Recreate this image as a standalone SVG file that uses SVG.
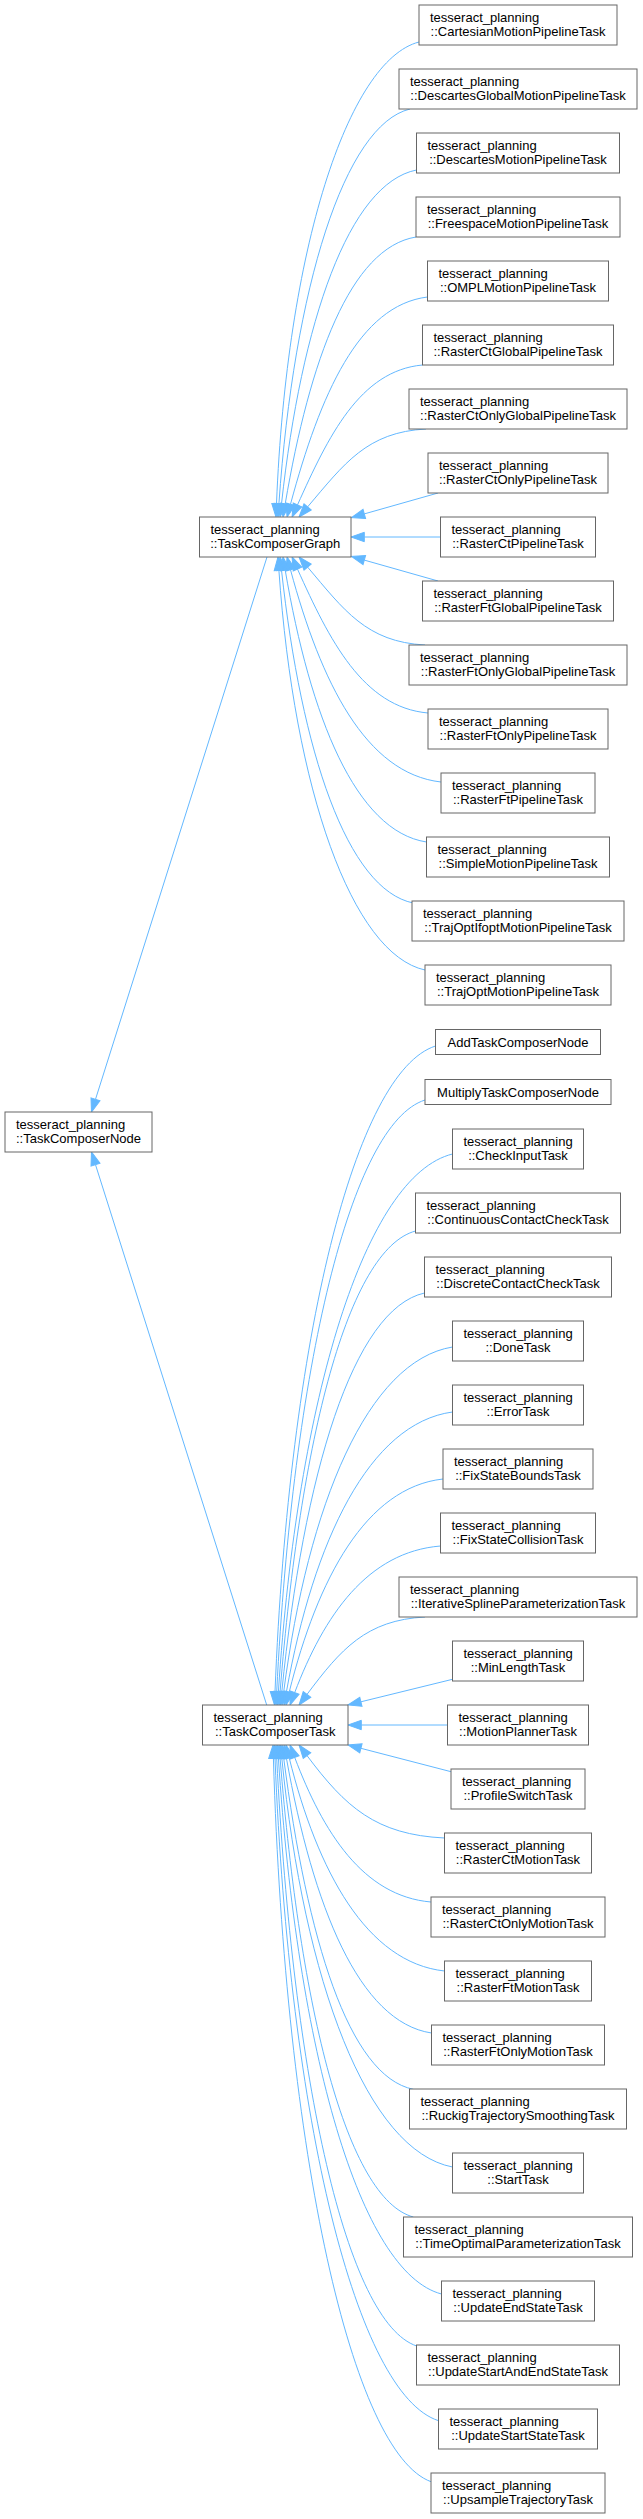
<svg xmlns="http://www.w3.org/2000/svg" width="643" height="2519" viewBox="0 0 643 2519">
<style>
.n rect{fill:#fff;stroke:#666;stroke-width:1}
text{font-family:"Liberation Sans",Arial,Helvetica,sans-serif;font-size:13px;fill:#000}
.c{text-anchor:middle}
.e path{fill:none;stroke:#63b8ff;stroke-width:1;marker-start:url(#a)}
</style>
<defs>
<marker id="a" markerUnits="userSpaceOnUse" viewBox="0 -5 14 10" refX="0" refY="0" markerWidth="14" markerHeight="10" orient="auto-start-reverse" overflow="visible">
<path d="M0,-4.7 L13.3,0 L0,4.7 Z" fill="#63b8ff" stroke="#63b8ff" stroke-width="1"/>
</marker>
</defs>
<rect width="643" height="2519" fill="#fff"/>
<g id="connectors" class="e">
<path d="M276.5,503.7 C286.7,250 347.8,60.5 419,42"/>
<path d="M278.9,503.7 C294.1,287.1 344.5,124.8 410,109"/>
<path d="M281.5,503.8 C301.5,321.3 349,183.4 416.5,170"/>
<path d="M285.2,503.9 C309.8,359.2 350.6,247.7 416,237"/>
<path d="M290.5,504.2 C320.2,394.1 359.1,305.3 427.5,297"/>
<path d="M297.5,504.9 C328.2,436.5 359.9,370.6 422.5,365"/>
<path d="M307.6,506.9 C344.3,463.7 366.8,432.1 426,429"/>
<path d="M364.3,513.9 L438,493"/>
<path d="M364.3,537 L440.5,537"/>
<path d="M364.3,560.1 L438,581"/>
<path d="M307.6,567.1 C344.1,610.1 366.3,641.9 425,645"/>
<path d="M297.5,569.1 C329.4,640.1 362.9,707.2 428,713"/>
<path d="M290.5,569.8 C321,682.5 365.7,773.5 441,782"/>
<path d="M285.2,570.1 C310.3,717.5 355.8,831.1 426.5,842"/>
<path d="M281.5,570.2 C301.4,752.1 347.3,889.7 413.3,903"/>
<path d="M278.9,570.3 C294.2,789.6 352,954 425,970"/>
<path d="M95.5,1099.3 L267,557"/>
<path d="M95.5,1164.7 L266.7,1705"/>
<path d="M275,1691.7 C289.2,1336.9 355.3,1071.8 435.5,1046"/>
<path d="M276.7,1691.7 C293,1366.7 350.8,1123.7 425,1100"/>
<path d="M278.4,1691.7 C297.6,1396.6 365.3,1175.5 452.5,1154"/>
<path d="M280.1,1691.7 C300.3,1439.1 347.9,1249.4 415.5,1231"/>
<path d="M281.8,1691.8 C303.6,1473.6 353.1,1309 424.5,1293"/>
<path d="M283.7,1691.8 C308.1,1503.8 368,1360.8 452.5,1347"/>
<path d="M286.4,1691.9 C313.6,1540.4 369.3,1423.2 452.5,1412"/>
<path d="M289.2,1692.1 C317.6,1578.4 366.1,1487.5 443,1479"/>
<path d="M294.7,1692.6 C324,1615.4 367.5,1551.9 440.5,1546"/>
<path d="M307,1694.4 C340.8,1649.3 366,1620.1 425,1617"/>
<path d="M360.9,1701.8 L452.5,1679.3"/>
<path d="M361.3,1725 L447.5,1725"/>
<path d="M360.9,1748.3 L451,1771.7"/>
<path d="M307,1755.6 C345.4,1806.8 375.6,1834.7 444.5,1838"/>
<path d="M294.7,1757.4 C322.9,1831.7 362.8,1896.2 431,1902"/>
<path d="M289.2,1757.9 C317.6,1871.6 366.7,1962.5 444.5,1971"/>
<path d="M286.4,1758.1 C313.2,1906.9 359,2022 431.5,2033"/>
<path d="M283.7,1758.2 C307.2,1938.8 348.5,2076.1 413.3,2089.3"/>
<path d="M281.8,1758.2 C304.2,1981.9 367.1,2150.6 452.5,2167"/>
<path d="M280.1,1758.3 C300.2,2009.8 346.7,2198.7 413.3,2217"/>
<path d="M278.4,1758.3 C297.5,2052.3 360,2272.6 441.5,2294"/>
<path d="M276.7,1758.3 C292.9,2081.1 346.7,2322.5 416.7,2346"/>
<path d="M275,1758.3 C289.6,2122.3 356.6,2394.2 438.5,2420.7"/>
<path d="M273.4,1758.3 C285.3,2156 352.2,2452.8 431,2481.7"/>
</g>
<g id="TaskComposerNode" class="n"><rect x="5" y="1112" width="147" height="40"/><text x="16" y="1128.5">tesseract_planning</text><text class="c" x="78.5" y="1143">::TaskComposerNode</text></g>
<g id="TaskComposerGraph" class="n"><rect x="199.5" y="517" width="151.5" height="40"/><text x="210.5" y="533.5">tesseract_planning</text><text class="c" x="275.25" y="548">::TaskComposerGraph</text></g>
<g id="TaskComposerTask" class="n"><rect x="202.5" y="1705" width="145.5" height="40"/><text x="213.5" y="1721.5">tesseract_planning</text><text class="c" x="275.25" y="1736">::TaskComposerTask</text></g>
<g id="CartesianMotionPipelineTask" class="n"><rect x="419" y="5" width="198" height="40"/><text x="430" y="21.5">tesseract_planning</text><text class="c" x="518" y="36">::CartesianMotionPipelineTask</text></g>
<g id="DescartesGlobalMotionPipelineTask" class="n"><rect x="399" y="69" width="238" height="40"/><text x="410" y="85.5">tesseract_planning</text><text class="c" x="518" y="100">::DescartesGlobalMotionPipelineTask</text></g>
<g id="DescartesMotionPipelineTask" class="n"><rect x="416.5" y="133" width="203" height="40"/><text x="427.5" y="149.5">tesseract_planning</text><text class="c" x="518" y="164">::DescartesMotionPipelineTask</text></g>
<g id="FreespaceMotionPipelineTask" class="n"><rect x="416" y="197" width="204" height="40"/><text x="427" y="213.5">tesseract_planning</text><text class="c" x="518" y="228">::FreespaceMotionPipelineTask</text></g>
<g id="OMPLMotionPipelineTask" class="n"><rect x="427.5" y="261" width="181" height="40"/><text x="438.5" y="277.5">tesseract_planning</text><text class="c" x="518" y="292">::OMPLMotionPipelineTask</text></g>
<g id="RasterCtGlobalPipelineTask" class="n"><rect x="422.5" y="325" width="191" height="40"/><text x="433.5" y="341.5">tesseract_planning</text><text class="c" x="518" y="356">::RasterCtGlobalPipelineTask</text></g>
<g id="RasterCtOnlyGlobalPipelineTask" class="n"><rect x="409" y="389" width="218" height="40"/><text x="420" y="405.5">tesseract_planning</text><text class="c" x="518" y="420">::RasterCtOnlyGlobalPipelineTask</text></g>
<g id="RasterCtOnlyPipelineTask" class="n"><rect x="428" y="453" width="180" height="40"/><text x="439" y="469.5">tesseract_planning</text><text class="c" x="518" y="484">::RasterCtOnlyPipelineTask</text></g>
<g id="RasterCtPipelineTask" class="n"><rect x="440.5" y="517" width="155" height="40"/><text x="451.5" y="533.5">tesseract_planning</text><text class="c" x="518" y="548">::RasterCtPipelineTask</text></g>
<g id="RasterFtGlobalPipelineTask" class="n"><rect x="422.5" y="581" width="191" height="40"/><text x="433.5" y="597.5">tesseract_planning</text><text class="c" x="518" y="612">::RasterFtGlobalPipelineTask</text></g>
<g id="RasterFtOnlyGlobalPipelineTask" class="n"><rect x="409" y="645" width="218" height="40"/><text x="420" y="661.5">tesseract_planning</text><text class="c" x="518" y="676">::RasterFtOnlyGlobalPipelineTask</text></g>
<g id="RasterFtOnlyPipelineTask" class="n"><rect x="428" y="709" width="180" height="40"/><text x="439" y="725.5">tesseract_planning</text><text class="c" x="518" y="740">::RasterFtOnlyPipelineTask</text></g>
<g id="RasterFtPipelineTask" class="n"><rect x="441" y="773" width="154" height="40"/><text x="452" y="789.5">tesseract_planning</text><text class="c" x="518" y="804">::RasterFtPipelineTask</text></g>
<g id="SimpleMotionPipelineTask" class="n"><rect x="426.5" y="837" width="183" height="40"/><text x="437.5" y="853.5">tesseract_planning</text><text class="c" x="518" y="868">::SimpleMotionPipelineTask</text></g>
<g id="TrajOptIfoptMotionPipelineTask" class="n"><rect x="412" y="901" width="212" height="40"/><text x="423" y="917.5">tesseract_planning</text><text class="c" x="518" y="932">::TrajOptIfoptMotionPipelineTask</text></g>
<g id="TrajOptMotionPipelineTask" class="n"><rect x="425" y="965" width="186" height="40"/><text x="436" y="981.5">tesseract_planning</text><text class="c" x="518" y="996">::TrajOptMotionPipelineTask</text></g>
<g id="AddTaskComposerNode" class="n"><rect x="435.5" y="1029.5" width="165" height="25"/><text class="c" x="518" y="1046.5">AddTaskComposerNode</text></g>
<g id="MultiplyTaskComposerNode" class="n"><rect x="425" y="1079.5" width="186" height="25"/><text class="c" x="518" y="1096.5">MultiplyTaskComposerNode</text></g>
<g id="CheckInputTask" class="n"><rect x="452.5" y="1129" width="131" height="40"/><text x="463.5" y="1145.5">tesseract_planning</text><text class="c" x="518" y="1160">::CheckInputTask</text></g>
<g id="ContinuousContactCheckTask" class="n"><rect x="415.5" y="1193" width="205" height="40"/><text x="426.5" y="1209.5">tesseract_planning</text><text class="c" x="518" y="1224">::ContinuousContactCheckTask</text></g>
<g id="DiscreteContactCheckTask" class="n"><rect x="424.5" y="1257" width="187" height="40"/><text x="435.5" y="1273.5">tesseract_planning</text><text class="c" x="518" y="1288">::DiscreteContactCheckTask</text></g>
<g id="DoneTask" class="n"><rect x="452.5" y="1321" width="131" height="40"/><text x="463.5" y="1337.5">tesseract_planning</text><text class="c" x="518" y="1352">::DoneTask</text></g>
<g id="ErrorTask" class="n"><rect x="452.5" y="1385" width="131" height="40"/><text x="463.5" y="1401.5">tesseract_planning</text><text class="c" x="518" y="1416">::ErrorTask</text></g>
<g id="FixStateBoundsTask" class="n"><rect x="443" y="1449" width="150" height="40"/><text x="454" y="1465.5">tesseract_planning</text><text class="c" x="518" y="1480">::FixStateBoundsTask</text></g>
<g id="FixStateCollisionTask" class="n"><rect x="440.5" y="1513" width="155" height="40"/><text x="451.5" y="1529.5">tesseract_planning</text><text class="c" x="518" y="1544">::FixStateCollisionTask</text></g>
<g id="IterativeSplineParameterizationTask" class="n"><rect x="399" y="1577" width="238" height="40"/><text x="410" y="1593.5">tesseract_planning</text><text class="c" x="518" y="1608">::IterativeSplineParameterizationTask</text></g>
<g id="MinLengthTask" class="n"><rect x="452.5" y="1641" width="131" height="40"/><text x="463.5" y="1657.5">tesseract_planning</text><text class="c" x="518" y="1672">::MinLengthTask</text></g>
<g id="MotionPlannerTask" class="n"><rect x="447.5" y="1705" width="141" height="40"/><text x="458.5" y="1721.5">tesseract_planning</text><text class="c" x="518" y="1736">::MotionPlannerTask</text></g>
<g id="ProfileSwitchTask" class="n"><rect x="451" y="1769" width="134" height="40"/><text x="462" y="1785.5">tesseract_planning</text><text class="c" x="518" y="1800">::ProfileSwitchTask</text></g>
<g id="RasterCtMotionTask" class="n"><rect x="444.5" y="1833" width="147" height="40"/><text x="455.5" y="1849.5">tesseract_planning</text><text class="c" x="518" y="1864">::RasterCtMotionTask</text></g>
<g id="RasterCtOnlyMotionTask" class="n"><rect x="431" y="1897" width="174" height="40"/><text x="442" y="1913.5">tesseract_planning</text><text class="c" x="518" y="1928">::RasterCtOnlyMotionTask</text></g>
<g id="RasterFtMotionTask" class="n"><rect x="444.5" y="1961" width="147" height="40"/><text x="455.5" y="1977.5">tesseract_planning</text><text class="c" x="518" y="1992">::RasterFtMotionTask</text></g>
<g id="RasterFtOnlyMotionTask" class="n"><rect x="431.5" y="2025" width="173" height="40"/><text x="442.5" y="2041.5">tesseract_planning</text><text class="c" x="518" y="2056">::RasterFtOnlyMotionTask</text></g>
<g id="RuckigTrajectorySmoothingTask" class="n"><rect x="409.5" y="2089" width="217" height="40"/><text x="420.5" y="2105.5">tesseract_planning</text><text class="c" x="518" y="2120">::RuckigTrajectorySmoothingTask</text></g>
<g id="StartTask" class="n"><rect x="452.5" y="2153" width="131" height="40"/><text x="463.5" y="2169.5">tesseract_planning</text><text class="c" x="518" y="2184">::StartTask</text></g>
<g id="TimeOptimalParameterizationTask" class="n"><rect x="403.5" y="2217" width="229" height="40"/><text x="414.5" y="2233.5">tesseract_planning</text><text class="c" x="518" y="2248">::TimeOptimalParameterizationTask</text></g>
<g id="UpdateEndStateTask" class="n"><rect x="441.5" y="2281" width="153" height="40"/><text x="452.5" y="2297.5">tesseract_planning</text><text class="c" x="518" y="2312">::UpdateEndStateTask</text></g>
<g id="UpdateStartAndEndStateTask" class="n"><rect x="416.5" y="2345" width="203" height="40"/><text x="427.5" y="2361.5">tesseract_planning</text><text class="c" x="518" y="2376">::UpdateStartAndEndStateTask</text></g>
<g id="UpdateStartStateTask" class="n"><rect x="438.5" y="2409" width="159" height="40"/><text x="449.5" y="2425.5">tesseract_planning</text><text class="c" x="518" y="2440">::UpdateStartStateTask</text></g>
<g id="UpsampleTrajectoryTask" class="n"><rect x="431" y="2473" width="174" height="40"/><text x="442" y="2489.5">tesseract_planning</text><text class="c" x="518" y="2504">::UpsampleTrajectoryTask</text></g>
</svg>
